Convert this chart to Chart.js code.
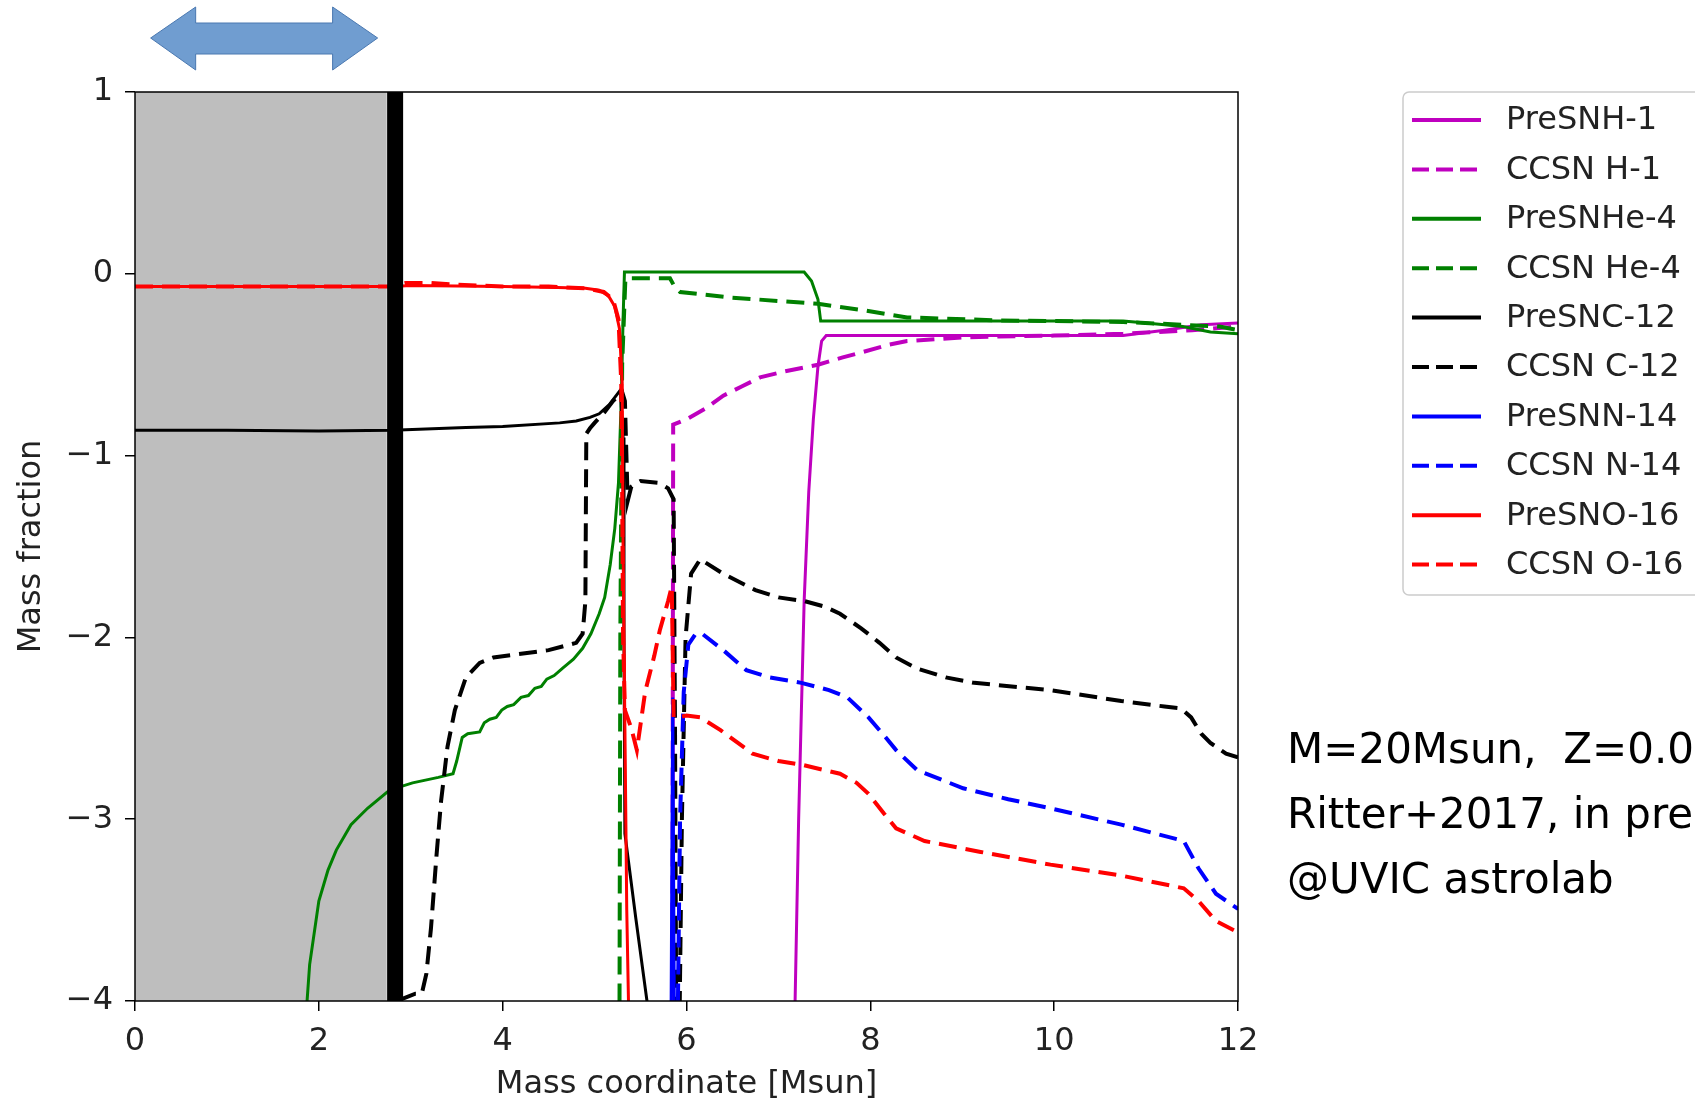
<!DOCTYPE html>
<html>
<head>
<meta charset="utf-8">
<script src="https://cdn.jsdelivr.net/npm/chart.js@4.4.0/dist/chart.umd.min.js"></script>
<style>
html, body { margin: 0; padding: 0; background: #fff; }
</style>
</head>
<body>
<canvas id="myChart" width="1695" height="1100"></canvas>
<script>
// [mass coordinate (Msun), log10 mass fraction]
var preH1 = [[7.17,-4.3],[7.22,-3.0],[7.28,-1.8],[7.33,-1.2],[7.38,-0.8],[7.43,-0.51],[7.47,-0.37],[7.52,-0.34],
    [8.0,-0.34],[9.0,-0.34],[10.0,-0.34],[10.75,-0.34],[11.2,-0.31],[11.6,-0.28],[12.0,-0.27]];
var ccsnH1 = [[5.845,-4.3],[5.855,-0.83],[6.0,-0.8],[6.21,-0.74],[6.4,-0.67],[6.6,-0.62],[6.8,-0.57],[7.04,-0.54],
    [7.43,-0.5],[7.7,-0.46],[7.92,-0.43],[8.2,-0.39],[8.4,-0.37],[9.0,-0.35],[9.4,-0.345],[10.0,-0.34],
    [10.75,-0.33],[11.5,-0.31],[12.0,-0.29]];
var preHe4 = [[1.83,-4.3],[1.9,-3.8],[2.0,-3.45],[2.1,-3.28],[2.19,-3.17],[2.35,-3.03],[2.53,-2.94],[2.77,-2.84],
    [3.02,-2.8],[3.3,-2.77],[3.46,-2.75],[3.5,-2.68],[3.56,-2.55],[3.62,-2.53],[3.75,-2.52],[3.8,-2.47],
    [3.86,-2.45],[3.93,-2.44],[3.99,-2.4],[4.05,-2.38],[4.12,-2.37],[4.2,-2.33],[4.28,-2.32],[4.35,-2.28],
    [4.42,-2.27],[4.48,-2.23],[4.56,-2.21],[4.65,-2.17],[4.77,-2.12],[4.87,-2.06],[4.96,-1.98],[5.05,-1.87],
    [5.11,-1.78],[5.17,-1.6],[5.22,-1.4],[5.26,-1.15],[5.29,-0.7],[5.31,-0.25],[5.325,0.01],[6.0,0.01],
    [7.0,0.01],[7.28,0.01],[7.36,-0.04],[7.43,-0.14],[7.46,-0.26],[7.6,-0.26],[9.0,-0.26],[10.75,-0.26],
    [11.0,-0.27],[11.4,-0.29],[11.7,-0.32],[12.0,-0.33]];
var ccsnHe4 = [[5.27,-4.3],[5.28,-2.0],[5.3,-0.5],[5.335,-0.03],[5.36,-0.025],[5.82,-0.025],[5.87,-0.07],
    [5.93,-0.1],[6.46,-0.13],[7.43,-0.165],[7.92,-0.2],[8.4,-0.24],[9.37,-0.256],[10.75,-0.265],
    [11.8,-0.29],[12.0,-0.31]];
var preC12 = [[0,-0.86],[1,-0.86],[2,-0.865],[2.8,-0.86],[3.6,-0.845],[4.0,-0.84],[4.62,-0.82],[4.8,-0.81],
    [4.95,-0.79],[5.05,-0.77],[5.16,-0.72],[5.22,-0.68],[5.28,-0.64],[5.31,-0.9],[5.32,-2.0],[5.33,-3.08],
    [5.45,-3.55],[5.57,-4.0],[5.6,-4.15]];
var ccsnC12 = [[2.6,-4.05],[3.05,-3.96],[3.12,-3.96],[3.17,-3.85],[3.22,-3.6],[3.28,-3.2],[3.33,-2.9],[3.4,-2.6],
    [3.48,-2.4],[3.6,-2.22],[3.75,-2.14],[3.9,-2.11],[4.2,-2.09],[4.5,-2.07],[4.8,-2.03],[4.87,-1.98],
    [4.9,-1.8],[4.91,-0.88],[4.95,-0.85],[5.0,-0.82],[5.11,-0.76],[5.2,-0.7],[5.3,-0.65],[5.33,-0.7],
    [5.36,-1.25],[5.4,-1.17],[5.5,-1.14],[5.7,-1.15],[5.8,-1.18],[5.86,-1.24],[5.875,-2.5],[5.89,-4.3],
    [5.92,-4.3],[5.95,-3.0],[5.99,-2.0],[6.05,-1.65],[6.15,-1.57],[6.4,-1.65],[6.75,-1.74],[7.0,-1.78],
    [7.28,-1.8],[7.5,-1.83],[7.67,-1.87],[7.9,-1.95],[8.1,-2.03],[8.28,-2.11],[8.5,-2.17],[8.82,-2.22],
    [9.13,-2.25],[9.96,-2.29],[10.73,-2.35],[11.2,-2.38],[11.38,-2.39],[11.49,-2.44],[11.6,-2.53],
    [11.7,-2.58],[11.87,-2.64],[12.0,-2.66]];
var preN14 = [[5.83,-4.3],[5.85,-2.33],[5.87,-4.3]];
var ccsnN14 = [[5.9,-4.3],[5.93,-3.0],[5.97,-2.3],[6.02,-2.04],[6.1,-1.98],[6.17,-1.98],[6.4,-2.07],[6.65,-2.18],
    [6.9,-2.22],[7.25,-2.25],[7.55,-2.29],[7.75,-2.33],[7.98,-2.44],[8.15,-2.54],[8.28,-2.62],[8.51,-2.73],
    [9.01,-2.83],[9.5,-2.89],[9.96,-2.94],[10.73,-3.03],[11.41,-3.12],[11.57,-3.27],[11.76,-3.41],
    [11.99,-3.49],[12.0,-3.49]];
var preO16 = [[0,-0.07],[2.8,-0.07],[3.0,-0.065],[4.0,-0.07],[4.6,-0.075],[4.9,-0.08],[5.05,-0.09],[5.15,-0.12],
    [5.22,-0.18],[5.27,-0.3],[5.3,-0.6],[5.31,-1.5],[5.33,-2.5],[5.35,-3.5],[5.38,-4.3]];
var ccsnO16 = [[0,-0.07],[2.8,-0.07],[2.95,-0.05],[3.2,-0.05],[3.5,-0.06],[4.0,-0.07],[4.5,-0.07],[4.9,-0.08],
    [5.1,-0.1],[5.2,-0.14],[5.26,-0.25],[5.29,-0.6],[5.3,-1.2],[5.31,-2.0],[5.33,-2.4],[5.4,-2.5],
    [5.46,-2.62],[5.55,-2.3],[5.65,-2.1],[5.71,-1.96],[5.8,-1.8],[5.84,-1.72],[5.86,-2.44],[5.9,-2.44],
    [6.0,-2.43],[6.15,-2.44],[6.37,-2.51],[6.72,-2.64],[7.0,-2.68],[7.25,-2.7],[7.67,-2.75],[7.85,-2.8],
    [7.98,-2.86],[8.15,-2.97],[8.28,-3.05],[8.59,-3.12],[9.2,-3.18],[9.96,-3.25],[10.73,-3.31],
    [11.41,-3.38],[11.57,-3.45],[11.76,-3.56],[11.99,-3.62],[12.0,-3.62]];

var seriesLabels = ['PreSNH-1', 'CCSN H-1', 'PreSNHe-4', 'CCSN He-4', 'PreSNC-12', 'CCSN C-12',
    'PreSNN-14', 'CCSN N-14', 'PreSNO-16', 'CCSN O-16'];
var seriesData = [preH1, ccsnH1, preHe4, ccsnHe4, preC12, ccsnC12, preN14, ccsnN14, preO16, ccsnO16];
var seriesColors = ['#bf00bf', '#bf00bf', '#008000', '#008000', '#000000', '#000000',
    '#0000ff', '#0000ff', '#ff0000', '#ff0000'];
var seriesDashed = [false, true, false, true, false, true, false, true, false, true];

// remnant region and mass cut
var remnantEdge = 2.74;
var massCut = 2.83;

var xTicks = [0, 2, 4, 6, 8, 10, 12];
var yTicks = [-4, -3, -2, -1, 0, 1];

var noteLines = ['M=20Msun,  Z=0.02', 'Ritter+2017, in prep.', '@UVIC astrolab'];

var datasets = seriesData.map(function (pts, i) {
    return {
        label: seriesLabels[i],
        data: pts.map(function (p) { return { x: p[0], y: p[1] }; }),
        borderColor: seriesColors[i],
        backgroundColor: seriesColors[i],
        borderWidth: seriesDashed[i] ? 4 : 3,
        borderDash: seriesDashed[i] ? [18, 9] : [],
        pointRadius: 0,
        fill: false,
        tension: 0,
        clip: 0,
        order: -i
    };
});
// grey shade for the remnant
datasets.push({
    label: '', extra: true,
    data: [{ x: 0, y: 1 }, { x: remnantEdge, y: 1 }],
    fill: 'start', backgroundColor: '#bebebe', borderWidth: 0,
    pointRadius: 0, clip: 0, order: 100
});
// thick line at the mass cut
datasets.push({
    label: '', extra: true,
    data: [{ x: massCut, y: 1 }, { x: massCut, y: -4 }],
    borderColor: '#000', borderWidth: 16, fill: false,
    pointRadius: 0, clip: 0, order: -100
});

var font = 'DejaVu Sans';

var decorations = {
    id: 'decorations',
    afterDraw: function (chart) {
        var ctx = chart.ctx;
        var a = chart.chartArea;
        var xs = chart.scales.x;
        ctx.save();

        // frame
        ctx.strokeStyle = '#000';
        ctx.lineWidth = 1.5;
        ctx.setLineDash([]);
        ctx.strokeRect(a.left, a.top, a.right - a.left, a.bottom - a.top);

        // legend box
        var lx = 1403, ly = 92, lw = 320, lh = 503;
        ctx.fillStyle = 'rgba(255,255,255,0.8)';
        ctx.strokeStyle = '#cccccc';
        ctx.lineWidth = 1.5;
        ctx.beginPath();
        ctx.roundRect(lx, ly, lw, lh, 6);
        ctx.fill();
        ctx.stroke();
        ctx.font = '32px "' + font + '"';
        ctx.textBaseline = 'middle';
        ctx.textAlign = 'left';
        var row = 0;
        chart.data.datasets.forEach(function (ds) {
            if (ds.extra) return;
            var yy = 120 + row * 49.4;
            ctx.strokeStyle = ds.borderColor;
            ctx.lineWidth = 4;
            ctx.setLineDash(ds.borderDash.length ? [17, 7] : []);
            ctx.beginPath();
            ctx.moveTo(1412, yy);
            ctx.lineTo(1481, yy);
            ctx.stroke();
            ctx.setLineDash([]);
            ctx.fillStyle = '#222';
            ctx.fillText(ds.label, 1506, yy + 1);
            row++;
        });

        // double arrow over the remnant
        var x0 = xs.getPixelForValue(0.17), x1 = xs.getPixelForValue(0.66);
        var x2 = xs.getPixelForValue(2.15), x3 = xs.getPixelForValue(2.64);
        var t = a.top;
        ctx.beginPath();
        ctx.moveTo(x0, t - 54);
        ctx.lineTo(x1, t - 85);
        ctx.lineTo(x1, t - 69);
        ctx.lineTo(x2, t - 69);
        ctx.lineTo(x2, t - 85);
        ctx.lineTo(x3, t - 54);
        ctx.lineTo(x2, t - 22);
        ctx.lineTo(x2, t - 38);
        ctx.lineTo(x1, t - 38);
        ctx.lineTo(x1, t - 22);
        ctx.closePath();
        ctx.fillStyle = '#709dd0';
        ctx.fill();
        ctx.strokeStyle = '#4a78b0';
        ctx.lineWidth = 1;
        ctx.stroke();

        // note
        ctx.fillStyle = '#000';
        ctx.font = '42px "' + font + '"';
        ctx.textBaseline = 'alphabetic';
        noteLines.forEach(function (s, i) {
            ctx.fillText(s, 1287, 763 + i * 65);
        });
        ctx.restore();
    }
};

var tickFont = { family: font, size: 32 };

new Chart(document.getElementById('myChart'), {
    type: 'line',
    data: { datasets: datasets },
    options: {
        responsive: false,
        animation: false,
        layout: { padding: { top: 92, right: 457, left: 0, bottom: 0 } },
        plugins: { legend: { display: false }, tooltip: { enabled: false } },
        scales: {
            x: {
                type: 'linear', min: 0, max: 12,
                afterBuildTicks: function (s) { s.ticks = xTicks.map(function (v) { return { value: v }; }); },
                afterFit: function (s) { s.height = 99; },
                ticks: { color: '#222', font: tickFont, padding: 11, maxRotation: 0 },
                grid: { drawOnChartArea: false, drawTicks: true, tickLength: 10, color: '#000', lineWidth: 1.5 },
                border: { display: false },
                title: { display: true, text: 'Mass coordinate [Msun]', color: '#222', font: tickFont, padding: { top: 0, bottom: -4 } }
            },
            y: {
                type: 'linear', min: -4, max: 1,
                afterBuildTicks: function (s) { s.ticks = yTicks.map(function (v) { return { value: v }; }); },
                afterFit: function (s) { s.width = 135; },
                ticks: {
                    color: '#222', font: tickFont, padding: 12,
                    callback: function (v) { return v < 0 ? '\u2212' + Math.abs(v) : String(v); }
                },
                grid: { drawOnChartArea: false, drawTicks: true, tickLength: 10, color: '#000', lineWidth: 1.5 },
                border: { display: false },
                title: { display: true, text: 'Mass fraction', color: '#222', font: tickFont, padding: { top: 12, bottom: 0 } }
            }
        }
    },
    plugins: [decorations]
});
</script>
</body>
</html>
